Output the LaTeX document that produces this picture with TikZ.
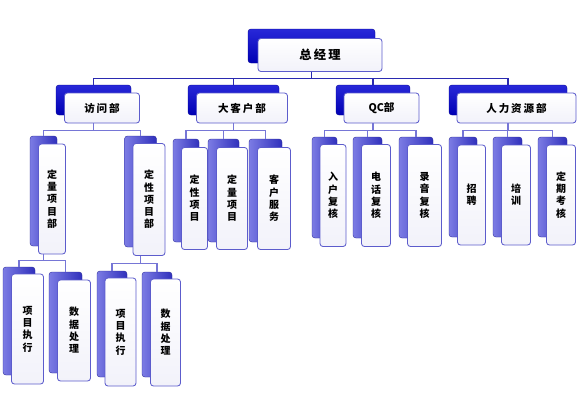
\documentclass[tikz,border=0pt]{standalone}
\usepackage{fontspec}
\usepackage{xcolor}
\newfontfamily\cjk{Noto Sans CJK SC}
\newfontfamily\cjksp[LetterSpace=18]{Noto Sans CJK SC}
\definecolor{deepblue}{HTML}{0000B4}
\definecolor{deeptop}{HTML}{2828D8}
\definecolor{midblue}{HTML}{3030BC}
\definecolor{lightside}{HTML}{7C7CE4}
\definecolor{frameblue}{HTML}{5C5CCC}
\definecolor{paleblue}{HTML}{F2F2FA}
\definecolor{busblue}{HTML}{2A2AB0}
\definecolor{linkblue}{HTML}{7676D6}
\newcommand{\toptxt}{\cjksp\bfseries\fontsize{10.5}{12}\selectfont}
\newcommand{\deptxt}{\cjksp\bfseries\fontsize{9}{11}\selectfont}
\newcommand{\coltxt}{\cjk\bfseries\fontsize{8.5}{10.5}\selectfont}

\begin{document}
\begin{tikzpicture}[x=0.03cm, y=-0.03cm,
  sz/.style 2 args={minimum width=#1*0.03cm, minimum height=#2*0.03cm},
  back/.style={rectangle, rounded corners=2.5pt, inner sep=0pt, draw=deepblue!80!black, line width=0.3pt, top color=deeptop, bottom color=deepblue},
  backlt/.style={rectangle, rounded corners=2.5pt, inner sep=0pt, draw=midblue!80!black, line width=0.3pt, left color=lightside, right color=midblue},
  front/.style={rectangle, rounded corners=2.5pt, inner sep=0pt, draw=frameblue, line width=0.7pt, top color=white, bottom color=paleblue, align=center, font=\deptxt},
  col/.style={front, font=\coltxt},
  bus/.style={draw=busblue, line width=1.3pt},
  link/.style={draw=linkblue, line width=1pt}
]
  \useasboundingbox (0,0) rectangle (580,412);

  % top
  \node[back, sz={127}{34}] (gmB) at (311.5,46) {};
  \node[front, sz={124}{33}, font=\toptxt] (gm) at ([shift={(8.5,9)}]gmB.center) {总经理};

  % departments
  \node[back, sz={75}{30}] (fwB) at (93.5,100) {};
  \node[front, sz={75}{30}] (fw) at ([shift={(8.5,8)}]fwB.center) {访问部};
  \node[back, sz={91}{30}] (dkB) at (233.5,100) {};
  \node[front, sz={91}{30}] (dk) at ([shift={(8.5,8)}]dkB.center) {大客户部};
  \node[back, sz={74}{30}] (qcB) at (373,100) {};
  \node[front, sz={75}{30}, font=\cjk\bfseries\fontsize{9}{11}\selectfont] (qc) at ([shift={(8.5,8)}]qcB.center) {QC部};
  \node[back, sz={118}{30}] (hrB) at (508,100) {};
  \node[front, sz={119}{30}] (hr) at ([shift={(8.5,8)}]hrB.center) {人力资源部};

  % groups
  \node[backlt, sz={27}{110}] (dlB) at (43.5,191) {};
  \node[col, sz={27}{110}] (dl) at ([shift={(8.5,8)}]dlB.center) {定\\量\\项\\目\\部};
  \node[backlt, sz={32}{111}] (dxB) at (140.5,191.5) {};
  \node[col, sz={32}{112}] (dx) at ([shift={(8.5,8)}]dxB.center) {定\\性\\项\\目\\部};

  \node[backlt, sz={26}{103}] (kdxB) at (186,190.5) {};
  \node[col, sz={26}{102}] (kdx) at ([shift={(8.5,8)}]kdxB.center) {定\\性\\项\\目};
  \node[backlt, sz={31}{103}] (kdlB) at (223.5,190.5) {};
  \node[col, sz={31}{102}] (kdl) at ([shift={(8.5,8)}]kdlB.center) {定\\量\\项\\目};
  \node[backlt, sz={33}{103}] (kfB) at (265.5,190.5) {};
  \node[col, sz={33}{102}] (kf) at ([shift={(8.5,8)}]kfB.center) {客\\户\\服\\务};

  \node[backlt, sz={25}{101}] (rhB) at (324.5,187.5) {};
  \node[col, sz={26}{102}] (rh) at ([shift={(8.5,8)}]rhB.center) {入\\户\\复\\核};
  \node[backlt, sz={29}{101}] (dhB) at (367.5,187.5) {};
  \node[col, sz={29}{102}] (dh) at ([shift={(8.5,8)}]dhB.center) {电\\话\\复\\核};
  \node[backlt, sz={34}{101}] (lyB) at (416,187.5) {};
  \node[col, sz={34}{102}] (ly) at ([shift={(8.5,8)}]lyB.center) {录\\音\\复\\核};

  \node[backlt, sz={28}{100}] (zpB) at (463,187) {};
  \node[col, sz={28}{100}] (zp) at ([shift={(8.5,8)}]zpB.center) {招\\聘};
  \node[backlt, sz={29}{100}] (pxB) at (507.5,187) {};
  \node[col, sz={29}{100}] (px) at ([shift={(8.5,8)}]pxB.center) {培\\训};
  \node[backlt, sz={29}{100}] (dqB) at (552.5,187) {};
  \node[col, sz={29}{100}] (dq) at ([shift={(8.5,8)}]dqB.center) {定\\期\\考\\核};

  % tasks
  \node[backlt, sz={32}{108}] (xm1B) at (19,321) {};
  \node[col, sz={32}{110}] (xm1) at ([shift={(8.5,8)}]xm1B.center) {项\\目\\执\\行};
  \node[backlt, sz={33}{101}] (sj1B) at (65.5,322.5) {};
  \node[col, sz={33}{101}] (sj1) at ([shift={(8.5,8)}]sj1B.center) {数\\据\\处\\理};
  \node[backlt, sz={30}{106}] (xm2B) at (112,324) {};
  \node[col, sz={31}{108}] (xm2) at ([shift={(8.5,8)}]xm2B.center) {项\\目\\执\\行};
  \node[backlt, sz={30}{105}] (sj2B) at (157,324.5) {};
  \node[col, sz={30}{107}] (sj2) at ([shift={(8.5,8)}]sj2B.center) {数\\据\\处\\理};

  % connectors
  \foreach \c in {fwB,dkB,qcB,hrB}
    \draw[bus] (gmB |- gm.south) -- ++(0,6.5) -| (\c.north);
  \foreach \c in {dlB,dxB}
    \draw[link] (fwB |- fw.south) -- ++(0,7) -| (\c.north);
  \foreach \c in {kdxB,kdlB,kfB}
    \draw[link] (dkB |- dk.south) -- ++(0,7) -| (\c.north);
  \foreach \c in {rhB,dhB,lyB}
    \draw[link] (qcB |- qc.south) -- ++(0,7) -| (\c.north);
  \foreach \c in {zpB,pxB,dqB}
    \draw[link] (hrB |- hr.south) -- ++(0,7) -| (\c.north);
  \foreach \c in {xm1B,sj1B}
    \draw[link] (dlB |- dl.south) -- ++(0,6) -| (\c.north);
  \foreach \c in {xm2B,sj2B}
    \draw[link] (dxB |- dx.south) -- ++(0,7.5) -| (\c.north);
\end{tikzpicture}
\end{document}
